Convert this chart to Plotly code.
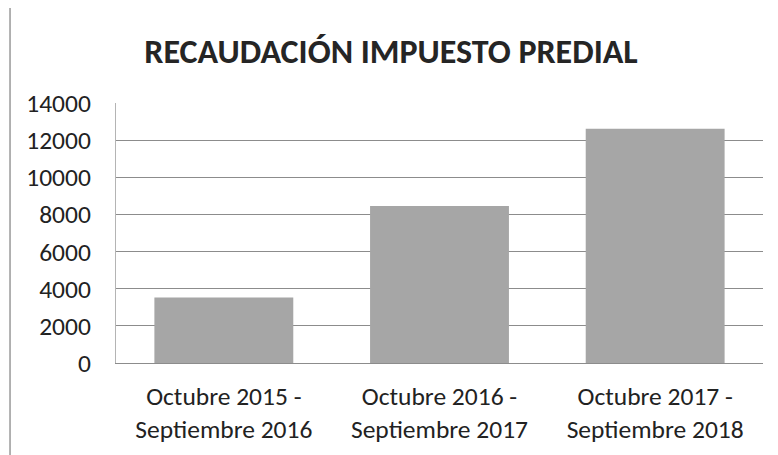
import plotly.graph_objects as go

categories = ["Octubre 2015 -<br>Septiembre 2016", "Octubre 2016 -<br>Septiembre 2017", "Octubre 2017 -<br>Septiembre 2018"]
values = [3530, 8460, 12620]
y_ticks = [0, 2000, 4000, 6000, 8000, 10000, 12000, 14000]
y_tick_text = [str(v) for v in y_ticks]

FONT = "Carlito, 'Liberation Sans Narrow', Lato"

fig = go.Figure(go.Bar(x=categories, y=values, marker=dict(color="#a6a6a6", line=dict(width=0))))

fig.update_layout(
    width=770, height=447,
    margin=dict(l=108, r=15, t=95, b=92, autoexpand=False),
    paper_bgcolor="white", plot_bgcolor="white",
    bargap=0.356,
    showlegend=False,
    title=dict(text="<b>RECAUDACIÓN IMPUESTO PREDIAL</b>", x=0.4974, xanchor="center", y=0.904, yanchor="middle",
               font=dict(family=FONT, size=34, color="#252525")),
    font=dict(family=FONT, size=25, color="#222222"),
    xaxis=dict(showline=True, linecolor="#8c8c8c", linewidth=1, ticks="", ticklabelstandoff=10,
               tickfont=dict(size=25.5), automargin=False),
    yaxis=dict(range=[0, 14000], tickvals=y_ticks, ticktext=y_tick_text, showgrid=True, gridcolor="#8c8c8c", gridwidth=1,
               showline=True, linecolor="#b4b4b4", zeroline=False, ticks="", ticklabelstandoff=19,
               tickfont=dict(size=25.5), automargin=False),
    shapes=[dict(type="line", xref="paper", yref="paper", x0=-0.1638, x1=-0.1638, y0=-0.4, y1=1.5,
                 line=dict(color="#666666", width=1))],
)

fig.write_html("out.html")
